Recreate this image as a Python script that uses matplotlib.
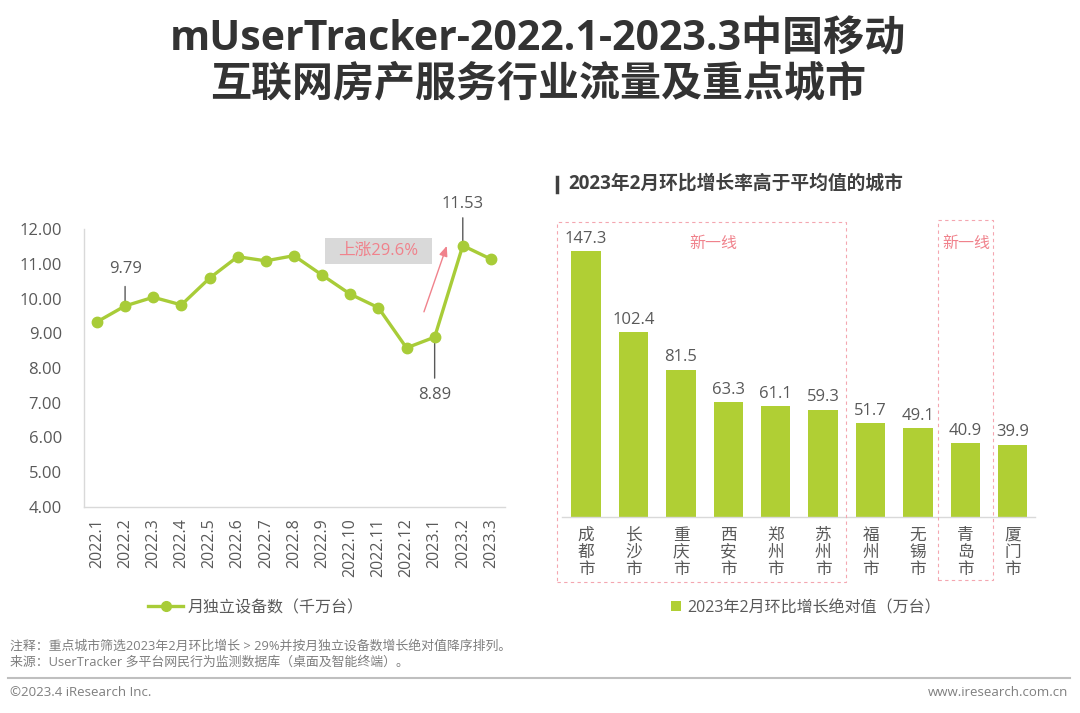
import matplotlib
matplotlib.use("Agg")
import matplotlib.pyplot as plt
from matplotlib.lines import Line2D
from matplotlib.patches import Rectangle, Patch

plt.rcParams['font.family'] = ['Open Sans', 'Noto Sans CJK SC', 'DejaVu Sans']

# ---------------- data ----------------
months = ["2022.1", "2022.2", "2022.3", "2022.4", "2022.5", "2022.6", "2022.7", "2022.8",
          "2022.9", "2022.10", "2022.11", "2022.12", "2023.1", "2023.2", "2023.3"]
devices = [9.33, 9.79, 10.04, 9.82, 10.59, 11.21, 11.09, 11.24, 10.68, 10.13, 9.74, 8.58, 8.89, 11.53, 11.14]
labeled_idx = [1, 12, 13]

cities = ["成都市", "长沙市", "重庆市", "西安市", "郑州市", "苏州市", "福州市", "无锡市", "青岛市", "厦门市"]
growth = [147.3, 102.4, 81.5, 63.3, 61.1, 59.3, 51.7, 49.1, 40.9, 39.9]

GREEN_LINE = "#A8CC38"
GREEN_BAR = "#B0CF34"
GREY_TXT = "#595959"
PINK = "#F0828C"

W, H = 1080, 713
fig = plt.figure(figsize=(W / 100, H / 100), dpi=100)


def px(x, y):
    return (x / W, 1 - y / H)


def rect_px(x0, y0, x1, y1):
    return [x0 / W, 1 - y1 / H, (x1 - x0) / W, (y1 - y0) / H]


# ---------------- title ----------------
fig.text(*px(538, 40), "mUserTracker-2022.1-2023.3中国移动", ha="center", va="center",
         fontsize=29.5, fontweight="bold", color="#333333")
fig.text(*px(538, 85), "互联网房产服务行业流量及重点城市", ha="center", va="center",
         fontsize=29.5, fontweight="bold", color="#333333")

# ---------------- left line chart ----------------
axL = fig.add_axes(rect_px(84, 229.3, 505, 506.7))
x = list(range(len(months)))
axL.plot(x, devices, color=GREEN_LINE, lw=2.4, marker="o", markersize=7.5,
         markerfacecolor=GREEN_LINE, markeredgecolor=GREEN_LINE, zorder=3)
axL.set_xlim(-0.46, 14.5)
axL.set_ylim(4, 12)
axL.set_yticks([4, 5, 6, 7, 8, 9, 10, 11, 12])
axL.set_yticklabels([f"{v:.2f}" for v in [4, 5, 6, 7, 8, 9, 10, 11, 12]])
axL.set_xticks(x)
axL.set_xticklabels(months, rotation=90)
axL.tick_params(axis="both", length=0, colors=GREY_TXT)
axL.tick_params(axis="y", labelsize=12, pad=16)
axL.tick_params(axis="x", labelsize=11.5, pad=8)
for s in ["top", "right"]:
    axL.spines[s].set_visible(False)
for s in ["left", "bottom"]:
    axL.spines[s].set_color("#D9D9D9")
    axL.spines[s].set_linewidth(1.0)

# data labels with leader lines
leader = {1: (14, 26.5), 12: (-29.5, -41.7), 13: (20, 30)}
for i in labeled_idx:
    ln, lb = leader[i]
    axL.annotate("", xy=(x[i], devices[i]), xytext=(0, ln), textcoords="offset points",
                 arrowprops=dict(arrowstyle="-", color=GREY_TXT, lw=1, shrinkA=0, shrinkB=0),
                 zorder=2)
    axL.annotate(f"{devices[i]:.2f}", xy=(x[i], devices[i]), xytext=(0, lb),
                 textcoords="offset points", ha="center", va="center",
                 fontsize=12, color=GREY_TXT, annotation_clip=False)

# growth callout
axL.add_patch(Rectangle((8.10, 11.0), 3.80, 0.75, facecolor="#D9D9D9", edgecolor="none",
                        clip_on=False, zorder=1))
axL.text(10.0, 11.375, "上涨29.6%", ha="center", va="center", fontsize=12, color=PINK)
axL.annotate("", xy=(12.43, 11.52), xytext=(11.62, 9.62),
             arrowprops=dict(arrowstyle="-|>,head_length=0.6,head_width=0.25", color=PINK, lw=1,
                             shrinkA=0, shrinkB=0))

# left legend
hL = Line2D([0], [0], color=GREEN_LINE, lw=2.4, marker="o", markersize=7,
            markerfacecolor=GREEN_LINE, markeredgecolor=GREEN_LINE)
fig.legend([hL], ["月独立设备数（千万台）"], loc="center", bbox_to_anchor=px(256, 608),
           frameon=False, fontsize=11.5, handlelength=2.2, handletextpad=0.3,
           labelcolor=GREY_TXT)

# ---------------- right bar chart ----------------
fig.text(*px(568, 184), "2023年2月环比增长率高于平均值的城市", ha="left", va="center",
         fontsize=13.5, fontweight="bold", color="#404040")
fig.add_artist(Line2D([557 / W, 557 / W], [1 - 177 / H, 1 - 192 / H], color="#404040", lw=2.5))

axR = fig.add_axes(rect_px(562, 516.7 - 160 * 1.806, 1035, 516.7))
xb = list(range(len(cities)))
bars = axR.bar(xb, growth, width=0.62, color=GREEN_BAR, zorder=2)
axR.set_xlim(-0.51, 9.47)
axR.set_ylim(0, 160)
axR.set_yticks([])
axR.set_xticks([])
for s in ["top", "right", "left"]:
    axR.spines[s].set_visible(False)
axR.spines["bottom"].set_color("#D9D9D9")
axR.spines["bottom"].set_linewidth(1.0)
for xi, v in zip(xb, growth):
    axR.annotate(f"{v:.1f}", xy=(xi, v), xytext=(0, 3), textcoords="offset points",
                 ha="center", va="bottom", fontsize=12, color=GREY_TXT)
    axR.annotate("\n".join(cities[xi]), xy=(xi, 0), xytext=(0, -8), textcoords="offset points",
                 ha="center", va="top", fontsize=12, color=GREY_TXT, linespacing=1.08,
                 annotation_clip=False)

# dashed boxes for 新一线 cities
for (x0, y0, x1, y1), (tx, ty) in [((557, 222, 846, 582), (713, 244)),
                                    ((938, 220, 993, 580), (966, 244))]:
    fig.add_artist(Rectangle(px(x0, y1), (x1 - x0) / W, (y1 - y0) / H, transform=fig.transFigure,
                             facecolor="none", edgecolor="#F4A6B0", lw=0.8, ls=(0, (3, 3))))
    fig.text(*px(tx, ty), "新一线", ha="center", va="center", fontsize=11.5, color=PINK)

# right legend
hR = Patch(facecolor=GREEN_BAR, edgecolor="none")
fig.legend([hR], ["2023年2月环比增长绝对值（万台）"], loc="center", bbox_to_anchor=px(806, 608),
           frameon=False, fontsize=11.5, handlelength=0.6, handleheight=0.6, handletextpad=0.4,
           labelcolor=GREY_TXT)

# ---------------- footer ----------------
fig.text(*px(10, 646), "注释：重点城市筛选2023年2月环比增长 > 29%并按月独立设备数增长绝对值降序排列。",
         ha="left", va="center", fontsize=9.3, color="#7F7F7F")
fig.text(*px(10, 662), "来源：UserTracker 多平台网民行为监测数据库（桌面及智能终端）。",
         ha="left", va="center", fontsize=9.3, color="#7F7F7F")
fig.add_artist(Line2D([8 / W, 1070 / W], [1 - 678 / H, 1 - 678 / H], color="#BFBFBF", lw=1.5))
fig.text(*px(10, 692), "©2023.4 iResearch Inc.", ha="left", va="center", fontsize=9.5, color="#7F7F7F")
fig.text(*px(1068, 692), "www.iresearch.com.cn", ha="right", va="center", fontsize=9.5, color="#7F7F7F")

fig.savefig("out.png", dpi=100, facecolor="white")
